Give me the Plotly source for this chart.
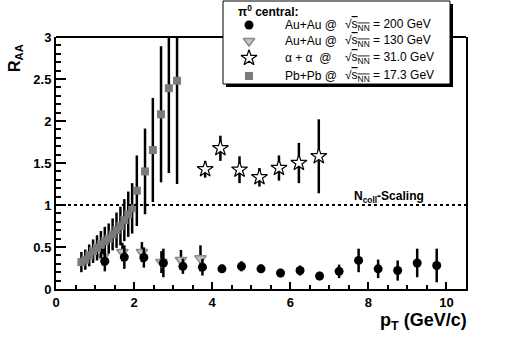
import plotly.graph_objects as go

# Pb+Pb @ 17.3 GeV (grey squares)
pbpb_x = [0.65, 0.75, 0.85, 0.95, 1.05, 1.15, 1.25, 1.35, 1.45, 1.55, 1.65, 1.75, 1.85, 1.95,
          2.07, 2.28, 2.48, 2.69, 2.89, 3.10]
pbpb_y = [0.32, 0.35, 0.40, 0.45, 0.49, 0.53, 0.57, 0.60, 0.65, 0.70, 0.75, 0.82, 0.89, 0.96,
          1.17, 1.40, 1.655, 2.08, 2.39, 2.48]
pbpb_err = [0.12, 0.12, 0.13, 0.14, 0.15, 0.16, 0.17, 0.18, 0.19, 0.21, 0.23, 0.25, 0.27, 0.30,
            0.42, 0.51, 0.62, 0.81, 1.01, 1.23]

# Au+Au @ 130 GeV (grey triangles)
au130_x = [1.2, 1.7, 2.2, 2.7, 3.2, 3.7]
au130_y = [0.38, 0.44, 0.44, 0.32, 0.345, 0.365]
au130_err = [0.10, 0.11, 0.12, 0.13, 0.12, 0.155]

# alpha+alpha @ 31 GeV (open stars)
aa_x = [3.82, 4.21, 4.70, 5.21, 5.71, 6.22, 6.73]
aa_y = [1.425, 1.675, 1.42, 1.33, 1.44, 1.50, 1.58]
aa_err = [0.10, 0.15, 0.16, 0.11, 0.15, 0.24, 0.44]

# Au+Au @ 200 GeV (black circles)
au200_x = [1.25, 1.75, 2.25, 2.75, 3.25, 3.75, 4.25, 4.75, 5.25, 5.75, 6.25, 6.75,
           7.25, 7.75, 8.25, 8.75, 9.25, 9.75]
au200_y = [0.33, 0.38, 0.375, 0.31, 0.27, 0.26, 0.24, 0.27, 0.24, 0.19, 0.22, 0.155,
           0.21, 0.34, 0.24, 0.22, 0.31, 0.28]
au200_err = [0.12, 0.14, 0.12, 0.17, 0.09, 0.10, 0.05, 0.06, 0.05, 0.05, 0.06, 0.05,
             0.08, 0.14, 0.11, 0.12, 0.17, 0.20]

legend_systems = ["Au+Au @", "Au+Au @", "\u03b1 + \u03b1  @", "Pb+Pb @"]
legend_energies = ["200 GeV", "130 GeV", "31.0 GeV", "17.3 GeV"]

W, H = 509, 338
L, R, T, B = 56, 466, 37, 289          # plot frame in pixels
FONT = "Liberation Sans, Arial, Helvetica, sans-serif"


def fx(p):
    return p / W


def fy(p):
    return 1 - p / H


styles = [
    dict(symbol="circle", size=9, color="black", line=dict(color="black", width=0)),
    dict(symbol="triangle-down", size=10, color="#c4c4c4", line=dict(color="#8a8a8a", width=1.5)),
    dict(symbol="star", size=12, color="white", line=dict(color="black", width=1.2)),
    dict(symbol="square", size=8, color="#7a7a7a", line=dict(color="#7a7a7a", width=0)),
]

fig = go.Figure()


def add_series(x, y, err, style):
    fig.add_trace(go.Scatter(
        x=x, y=y, mode="markers",
        marker=style,
        error_y=dict(type="data", array=err, color="black", thickness=2.5, width=0),
        showlegend=False,
    ))


add_series(au130_x, au130_y, au130_err, styles[1])
add_series(pbpb_x, pbpb_y, pbpb_err, styles[3])
add_series(aa_x, aa_y, aa_err, styles[2])
add_series(au200_x, au200_y, au200_err, styles[0])

# legend glyphs on a full-figure pixel-space axis pair
row_y = [25, 41, 58, 76]
for ry, st in zip(row_y, styles):
    fig.add_trace(go.Scatter(
        x=[249], y=[ry], mode="markers", marker=st,
        xaxis="x2", yaxis="y2", showlegend=False, hoverinfo="skip",
    ))

# top frame line and legend box (below traces so glyphs sit on top)
fig.add_shape(type="line", xref="paper", yref="paper", x0=fx(L), x1=fx(R), y0=fy(T), y1=fy(T),
              line=dict(color="black", width=2), layer="below")
fig.add_shape(type="rect", xref="paper", yref="paper",
              x0=fx(226), x1=fx(453), y0=fy(87), y1=fy(4),
              fillcolor="black", line_width=0, layer="below")
fig.add_shape(type="rect", xref="paper", yref="paper",
              x0=fx(223), x1=fx(450), y0=fy(84), y1=fy(1),
              fillcolor="white", line=dict(color="black", width=1), layer="below")

# N_coll scaling line
fig.add_shape(type="line", xref="x", yref="y", x0=0, x1=10.5, y0=1, y1=1,
              line=dict(color="black", width=1.8, dash="dot"))


def note(px, py, text, size, bold=False, xanchor="left", angle=0):
    fig.add_annotation(xref="paper", yref="paper", x=fx(px), y=fy(py),
                       xanchor=xanchor, yanchor="middle", textangle=angle,
                       text=f"<b>{text}</b>" if bold else text, showarrow=False,
                       font=dict(family=FONT, size=size, color="black"))


note(236, 11, "\u03c0<sup>0</sup> central:", 12, bold=True)
for ry, sysname, en in zip(row_y, legend_systems, legend_energies):
    note(283, ry, sysname, 12)
    note(343, ry, "\u221a<span style='text-decoration:overline'>s<sub>NN</sub></span> = " + en, 12)

note(352, 197, "N<sub>coll</sub>-Scaling", 12, bold=True)
note(16, 58, "R<sub>AA</sub>", 16, bold=True, xanchor="center", angle=-90)
note(469, 321, "p<sub>T</sub> (GeV/c)", 18, bold=True, xanchor="right")

fig.update_layout(
    width=W, height=H,
    margin=dict(l=0, r=0, t=0, b=0, autoexpand=False),
    paper_bgcolor="white", plot_bgcolor="rgba(0,0,0,0)",
    font=dict(family=FONT, color="black"),
    xaxis=dict(
        domain=[fx(L), fx(R)], anchor="y", automargin=False,
        range=[0, 10.5], dtick=2, tick0=0, ticks="inside", ticklen=7, tickwidth=2,
        tickcolor="black", showline=True, linecolor="black", linewidth=2, mirror=False,
        showgrid=False, zeroline=False,
        tickfont=dict(family=FONT, size=13, color="black", weight="bold"),
        minor=dict(dtick=0.5, ticks="inside", ticklen=4, tickwidth=2, tickcolor="black",
                   showgrid=False),
    ),
    yaxis=dict(
        domain=[fy(B), fy(T)], anchor="x", automargin=False,
        range=[0, 3], dtick=0.5, tick0=0, ticks="inside", ticklen=10, tickwidth=2,
        tickcolor="black", showline=True, linecolor="black", linewidth=2, mirror=True,
        showgrid=False, zeroline=False,
        tickfont=dict(family=FONT, size=13, color="black", weight="bold"),
        minor=dict(dtick=0.1, ticks="inside", ticklen=5, tickwidth=2, tickcolor="black",
                   showgrid=False),
    ),
    xaxis2=dict(domain=[0, 1], anchor="y2", range=[0, W], visible=False, automargin=False),
    yaxis2=dict(domain=[0, 1], anchor="x2", range=[H, 0], visible=False, automargin=False),
    showlegend=False,
)

fig.write_html("out.html", config={"displayModeBar": False},
               post_script="document.body.style.margin='0';")
